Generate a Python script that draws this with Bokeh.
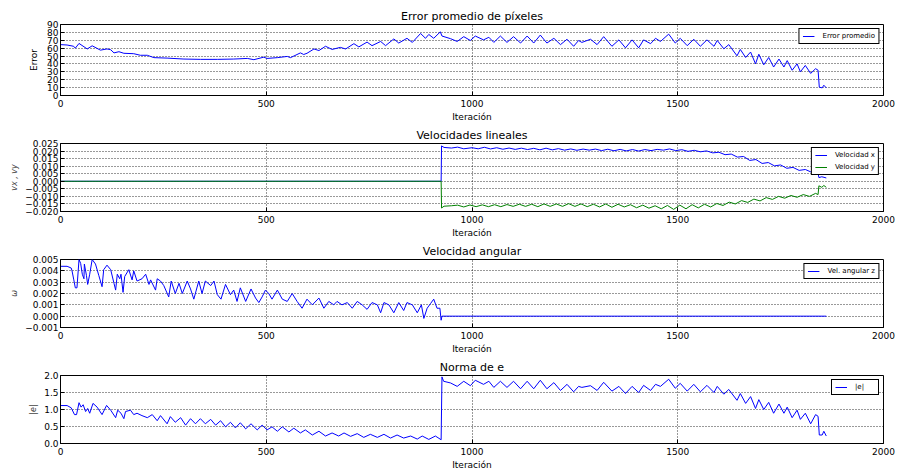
from bokeh.plotting import figure
from bokeh.layouts import column
from bokeh.models import Range1d, FixedTicker, CustomJSTickFormatter
from bokeh.embed import file_html
from bokeh.resources import INLINE

# ---------------- data ----------------
x_ticks = [0, 500, 1000, 1500, 2000]
err_ticks = [0, 10, 20, 30, 40, 50, 60, 70, 80, 90]
vel_ticks = [-0.020, -0.015, -0.010, -0.005, 0.0, 0.005, 0.010, 0.015, 0.020, 0.025]
ang_ticks = [-0.001, 0.0, 0.001, 0.002, 0.003, 0.004, 0.005]
norm_ticks = [0.0, 0.5, 1.0, 1.5, 2.0]

err_it = [0, 16, 32, 36, 45, 65, 77, 97, 113, 122, 130, 142, 154, 178, 194, 211, 227, 259, 300, 340,
          381, 421, 454, 470, 494, 502, 527, 551, 559, 583, 591, 599, 616, 628, 644, 660, 680, 693, 713, 725,
          745, 757, 778, 790, 810, 822, 842, 855, 875, 887, 895, 907, 923, 927, 948, 964, 980, 996, 1008, 1028,
          1041, 1053, 1069, 1085, 1101, 1118, 1134, 1150, 1166, 1182, 1199, 1215, 1231, 1247, 1259, 1267, 1288, 1304, 1320, 1340,
          1357, 1373, 1389, 1405, 1417, 1434, 1446, 1458, 1478, 1494, 1506, 1523, 1539, 1555, 1571, 1588, 1596, 1612, 1624, 1644,
          1652, 1665, 1677, 1689, 1697, 1709, 1721, 1733, 1746, 1758, 1766, 1778, 1790, 1798, 1810, 1823, 1835, 1841, 1844, 1851,
          1855, 1861]
err_val = [64.5, 64.0, 62.4, 60.0, 66.0, 59.0, 63.0, 57.5, 59.0, 58.0, 54.0, 55.5, 53.5, 53.0, 51.0, 51.0, 48.0, 47.4, 46.2, 45.8,
           45.8, 46.2, 47.0, 45.4, 48.6, 47.0, 48.0, 49.5, 48.0, 54.0, 52.0, 53.5, 59.0, 57.0, 62.4, 58.4, 61.0, 59.0, 65.7, 61.6,
           67.7, 63.2, 68.5, 63.2, 71.7, 66.5, 72.5, 67.3, 78.6, 72.5, 77.4, 72.5, 80.7, 75.4, 72.0, 68.5, 74.6, 69.7, 75.4, 70.5,
           73.8, 67.3, 75.4, 67.3, 74.6, 66.5, 75.4, 66.5, 76.6, 66.5, 72.5, 64.5, 71.3, 62.4, 69.7, 67.3, 71.3, 64.5, 74.6, 62.4,
           70.5, 60.4, 70.5, 60.4, 70.5, 65.7, 72.5, 68.5, 77.8, 66.5, 72.5, 63.2, 71.3, 62.4, 70.5, 62.4, 69.7, 59.2, 64.5, 50.3,
           58.4, 48.2, 55.1, 40.1, 52.3, 38.9, 48.2, 36.1, 46.2, 36.1, 44.2, 32.0, 40.1, 30.0, 38.1, 28.0, 34.0, 32.0, 10.5, 9.7,
           13.0, 9.7]

vx_it = [0, 925, 926, 932, 950, 965, 980, 1000, 1015, 1030, 1045, 1060, 1075, 1090, 1105, 1120, 1135, 1150, 1165, 1180,
         1195, 1210, 1225, 1240, 1255, 1270, 1285, 1300, 1315, 1330, 1345, 1360, 1375, 1390, 1405, 1420, 1435, 1450, 1465, 1480,
         1495, 1510, 1525, 1540, 1555, 1570, 1585, 1600, 1615, 1630, 1645, 1660, 1675, 1690, 1705, 1720, 1735, 1750, 1765, 1780,
         1795, 1810, 1825, 1840, 1843, 1850, 1861]
vx_val = [0.0, 0.0, 0.0234, 0.0224, 0.0220, 0.0226, 0.0215, 0.0222, 0.0215, 0.0225, 0.0214, 0.0222, 0.0212, 0.0220, 0.0211, 0.0219, 0.0210, 0.0218, 0.0208, 0.0219,
          0.0208, 0.0216, 0.0206, 0.0214, 0.0205, 0.0213, 0.0206, 0.0213, 0.0203, 0.0212, 0.0202, 0.0211, 0.0201, 0.0210, 0.0200, 0.0210, 0.0203, 0.0211, 0.0206, 0.0214,
          0.0203, 0.0209, 0.0198, 0.0205, 0.0195, 0.0201, 0.0188, 0.0192, 0.0176, 0.0180, 0.0160, 0.0164, 0.0138, 0.0144, 0.0118, 0.0124, 0.0102, 0.0108, 0.0086, 0.0092,
          0.0072, 0.0078, 0.0060, 0.0068, 0.0024, 0.0030, 0.0022]

vy_it = [0, 925, 926, 932, 950, 965, 980, 995, 1010, 1025, 1040, 1055, 1070, 1085, 1100, 1115, 1130, 1145, 1160, 1175,
         1190, 1205, 1220, 1235, 1250, 1265, 1280, 1295, 1310, 1325, 1340, 1355, 1370, 1385, 1400, 1415, 1430, 1445, 1460, 1475,
         1490, 1505, 1520, 1535, 1550, 1565, 1580, 1595, 1610, 1625, 1640, 1655, 1670, 1685, 1700, 1715, 1730, 1745, 1760, 1775,
         1790, 1805, 1820, 1835, 1841, 1843, 1850, 1855, 1861]
vy_val = [0.0, 0.0, -0.0177, -0.0165, -0.0162, -0.0158, -0.0170, -0.0157, -0.0168, -0.0156, -0.0168, -0.0155, -0.0168, -0.0154, -0.0166, -0.0152, -0.0166, -0.0152, -0.0168, -0.0150,
          -0.0166, -0.0150, -0.0166, -0.0148, -0.0166, -0.0150, -0.0168, -0.0152, -0.0170, -0.0150, -0.0172, -0.0152, -0.0170, -0.0155, -0.0175, -0.0158, -0.0178, -0.0162, -0.0182, -0.0160,
          -0.0186, -0.0158, -0.0182, -0.0155, -0.0176, -0.0152, -0.0170, -0.0147, -0.0160, -0.0138, -0.0150, -0.0128, -0.0140, -0.0118, -0.0130, -0.0108, -0.0120, -0.0100, -0.0112, -0.0094,
          -0.0106, -0.0088, -0.0100, -0.0080, -0.0088, -0.0030, -0.0040, -0.0028, -0.0040]

wz_it = [0, 16, 26, 28, 32, 36, 40, 45, 49, 53, 57, 58, 63, 66, 71, 77, 85, 93, 101, 105,
         113, 122, 130, 134, 138, 144, 147, 152, 156, 166, 174, 178, 186, 198, 207, 215, 219, 231, 235, 243,
         251, 263, 269, 279, 288, 296, 308, 316, 324, 336, 344, 352, 365, 373, 381, 390, 401, 413, 421, 429,
         437, 450, 463, 474, 482, 490, 498, 506, 514, 527, 539, 551, 563, 575, 587, 599, 612, 628, 640, 652,
         664, 672, 684, 697, 709, 721, 733, 745, 757, 770, 778, 786, 798, 810, 822, 834, 842, 855, 867, 877,
         883, 891, 899, 907, 915, 922, 925, 927, 1861]
wz_val = [0.0044, 0.0044, 0.00425, 0.0040, 0.00327, 0.0025, 0.0025, 0.0050, 0.00465, 0.0037, 0.0033, 0.0046, 0.0036, 0.0028, 0.0037, 0.0050, 0.0046, 0.0036, 0.0026, 0.0041,
          0.0045, 0.0041, 0.0029, 0.0023, 0.0037, 0.0033, 0.0037, 0.0021, 0.0035, 0.0041, 0.0032, 0.0040, 0.0031, 0.0033, 0.0037, 0.0028, 0.0032, 0.0023, 0.0033, 0.0031,
          0.0027, 0.0017, 0.0031, 0.0020, 0.0029, 0.0020, 0.0031, 0.0024, 0.0015, 0.0031, 0.0020, 0.0031, 0.0027, 0.0031, 0.0019, 0.0015, 0.0028, 0.0019, 0.0023, 0.0013,
          0.0025, 0.0013, 0.0024, 0.0016, 0.0012, 0.0017, 0.0023, 0.0020, 0.0015, 0.0023, 0.0015, 0.0013, 0.0020, 0.0013, 0.0007, 0.0015, 0.0010, 0.0016, 0.0007, 0.0013,
          0.0010, 0.0013, 0.0010, 0.0012, 0.0007, 0.0013, 0.0010, 0.0006, 0.0012, 0.0010, 0.0003, 0.0012, 0.0010, 0.0003, 0.0012, 0.0005, 0.0012, 0.0010, 0.0003, 0.0010,
          -0.0002, 0.0007, 0.0011, 0.0015, 0.0007, 0.0007, -0.00036, 0.0, 0.0]

ne_it = [0, 16, 26, 34, 39, 45, 50, 55, 61, 66, 71, 79, 89, 101, 112, 122, 134, 139, 147, 154,
         158, 170, 178, 186, 198, 211, 223, 235, 243, 259, 267, 279, 292, 304, 316, 328, 340, 352, 365, 377,
         389, 401, 413, 425, 437, 450, 463, 478, 490, 502, 514, 527, 539, 555, 567, 583, 595, 612, 628, 644,
         660, 676, 689, 705, 721, 737, 753, 770, 786, 802, 818, 834, 851, 867, 879, 895, 911, 925, 927, 931,
         948, 964, 980, 996, 1008, 1028, 1041, 1053, 1069, 1085, 1101, 1118, 1134, 1150, 1166, 1182, 1199, 1215, 1231, 1247,
         1259, 1267, 1288, 1304, 1320, 1340, 1357, 1373, 1389, 1405, 1417, 1434, 1446, 1458, 1478, 1494, 1506, 1523, 1539, 1555,
         1571, 1588, 1596, 1612, 1624, 1644, 1652, 1665, 1677, 1689, 1697, 1709, 1721, 1733, 1746, 1758, 1766, 1778, 1790, 1798,
         1810, 1823, 1835, 1841, 1844, 1851, 1855, 1861]
ne_val = [1.116, 1.116, 1.05, 0.85, 0.85, 1.20, 1.07, 1.14, 0.94, 1.03, 0.89, 1.18, 1.07, 0.85, 1.12, 0.98, 0.76, 0.98, 0.89, 0.73,
          0.94, 0.98, 0.85, 0.89, 0.82, 0.76, 0.85, 0.67, 0.82, 0.58, 0.79, 0.625, 0.76, 0.54, 0.73, 0.58, 0.73, 0.58, 0.71, 0.54,
          0.67, 0.49, 0.625, 0.46, 0.61, 0.43, 0.58, 0.40, 0.54, 0.40, 0.49, 0.36, 0.49, 0.34, 0.45, 0.31, 0.40, 0.25, 0.36, 0.22,
          0.31, 0.22, 0.31, 0.21, 0.29, 0.18, 0.27, 0.18, 0.27, 0.16, 0.25, 0.16, 0.22, 0.13, 0.22, 0.12, 0.22, 0.11, 1.96, 1.83,
          1.78, 1.68, 1.83, 1.70, 1.86, 1.74, 1.83, 1.65, 1.83, 1.65, 1.83, 1.61, 1.83, 1.61, 1.86, 1.61, 1.79, 1.56, 1.74, 1.52,
          1.68, 1.65, 1.70, 1.56, 1.80, 1.54, 1.68, 1.47, 1.68, 1.50, 1.71, 1.56, 1.74, 1.68, 1.89, 1.625, 1.77, 1.54, 1.74, 1.52,
          1.71, 1.50, 1.68, 1.45, 1.59, 1.27, 1.47, 1.18, 1.38, 1.03, 1.29, 1.00, 1.21, 0.89, 1.16, 0.89, 1.07, 0.76, 0.98, 0.71,
          0.89, 0.58, 0.85, 0.80, 0.25, 0.25, 0.36, 0.22]

# ---------------- styling helpers ----------------
FONT = "DejaVu Sans"
BLUE = "#0000ff"
GREEN = "#008000"


def fmt(decimals):
    return CustomJSTickFormatter(code="""
        const v = Math.abs(tick) < 1e-12 ? 0 : tick;
        return v.toFixed(%d).replace('-', '\u2212');
    """ % decimals)


def make_fig(title, y_lo, y_hi, y_ticks, ylabel, decimals, ylabel_size, ylabel_style,
             ylabel_color, ylabel_standoff, top=16):
    p = figure(width=895, height=top + 75 + 25, x_range=Range1d(0, 2000), y_range=Range1d(y_lo, y_hi),
               output_backend="svg", toolbar_location=None, title=title,
               min_border_left=60, min_border_right=12, min_border_top=top, min_border_bottom=25)
    p.background_fill_color = "white"
    p.border_fill_color = "white"
    p.outline_line_color = "black"
    p.outline_line_width = 1
    p.outline_line_alpha = 1

    p.title.align = "center"
    p.title.text_font = FONT
    p.title.text_font_size = "11px"
    p.title.text_font_style = "normal"
    p.title.text_color = "black"
    p.title.standoff = 4

    for ax in (p.xaxis[0], p.yaxis[0]):
        ax.major_label_text_font = FONT
        ax.major_label_text_font_size = "9px"
        ax.major_label_text_color = "black"
        ax.major_tick_in = 4
        ax.major_tick_out = 0
        ax.minor_tick_line_color = None
        ax.axis_line_color = "black"
        ax.major_tick_line_color = "black"
        ax.axis_label_text_font = FONT
        ax.axis_label_text_color = "black"

    p.xaxis.ticker = FixedTicker(ticks=x_ticks)
    p.xaxis.major_label_standoff = 4
    p.xaxis.axis_label = "Iteración"
    p.xaxis.axis_label_text_font_size = "9px"
    p.xaxis.axis_label_text_font_style = "normal"
    p.xaxis.axis_label_standoff = 2

    p.yaxis.ticker = FixedTicker(ticks=y_ticks)
    p.yaxis.major_label_standoff = 2
    if decimals is not None:
        p.yaxis.formatter = fmt(decimals)
    p.yaxis.axis_label = ylabel
    p.yaxis.axis_label_text_font_size = ylabel_size
    p.yaxis.axis_label_text_font_style = ylabel_style
    p.yaxis.axis_label_text_color = ylabel_color
    p.yaxis.axis_label_standoff = ylabel_standoff

    for g in (p.xgrid[0], p.ygrid[0]):
        g.grid_line_color = "black"
        g.grid_line_dash = "1 2"
        g.grid_line_width = 1
        g.grid_line_alpha = 0.8
    return p


def style_legend(p):
    lg = p.legend[0]
    lg.location = "top_right"
    lg.margin = 4
    lg.padding = 3
    lg.spacing = 4
    lg.glyph_width = 12
    lg.glyph_height = 8
    lg.label_height = 8
    lg.label_standoff = 8
    lg.label_text_font = FONT
    lg.label_text_font_size = "7px"
    lg.label_text_color = "black"
    lg.border_line_color = "black"
    lg.border_line_width = 1
    lg.border_line_alpha = 1
    lg.background_fill_color = "white"
    lg.background_fill_alpha = 1


p1 = make_fig("Error promedio de píxeles", 0, 90, err_ticks, "Error", None, "9px", "normal", "black", 5, top=24)
p1.line(err_it, err_val, line_color=BLUE, line_width=1, legend_label="Error promedio")
style_legend(p1)

p2 = make_fig("Velocidades lineales", -0.020, 0.025, vel_ticks, "vx , vy", 3, "8px", "italic", "#444444", 3)
p2.line(vx_it, vx_val, line_color=BLUE, line_width=1, legend_label="Velocidad x")
p2.line(vy_it, vy_val, line_color=GREEN, line_width=1, legend_label="Velocidad y")
style_legend(p2)

p3 = make_fig("Velocidad angular", -0.001, 0.005, ang_ticks, "ω", 3, "8px", "italic", "#444444", 3)
p3.line(wz_it, wz_val, line_color=BLUE, line_width=1, legend_label="Vel. angular z")
style_legend(p3)

p4 = make_fig("Norma de e", 0.0, 2.0, norm_ticks, "|e|", 1, "8px", "italic", "#444444", 3)
p4.line(ne_it, ne_val, line_color=BLUE, line_width=1, legend_label="|e|")
style_legend(p4)

layout = column(p1, p2, p3, p4, spacing=0)

open("out.html", "w").write(file_html(layout, INLINE))
